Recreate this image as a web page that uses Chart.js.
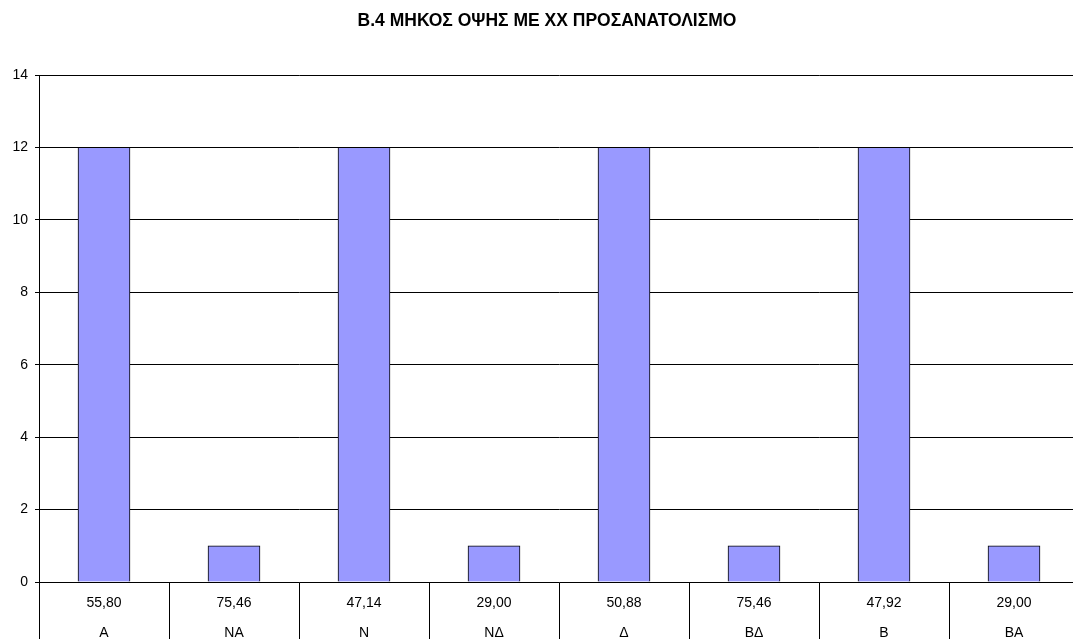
<!DOCTYPE html>
<html>
<head>
<meta charset="utf-8">
<script src="https://cdn.jsdelivr.net/npm/chart.js@4.4.1/dist/chart.umd.min.js"></script>
<style>
  html, body { margin: 0; padding: 0; background: #fff; overflow: hidden; }
  #wrap { width: 1073px; height: 639px; overflow: hidden; }
  canvas { display: block; }
</style>
</head>
<body>
<div id="wrap"><canvas id="c" width="1079" height="660"></canvas></div>
<script>
// Orientations (categories), bar heights and the facade lengths shown in the table row
const categories = ['Α', 'ΝΑ', 'Ν', 'ΝΔ', 'Δ', 'ΒΔ', 'Β', 'ΒΑ'];
const barValues = [12, 1, 12, 1, 12, 1, 12, 1];
const facadeLengths = [55.80, 75.46, 47.14, 29.00, 50.88, 75.46, 47.92, 29.00];
const yTicks = [0, 2, 4, 6, 8, 10, 12, 14];
const titleText = 'Β.4 ΜΗΚΟΣ ΟΨΗΣ ΜΕ ΧΧ ΠΡΟΣΑΝΑΤΟΛΙΣΜΟ';

const FONT = 'Arial, "Liberation Sans", sans-serif';
const fmt = v => v.toFixed(2).replace('.', ',');

// Title plus the data table drawn under the plot: cell borders and two text rows
const dataTable = {
  id: 'dataTable',
  afterDraw(chart) {
    const { ctx, chartArea, scales } = chart;
    const x = scales.x;
    const bottom = chart.height;
    const base = Math.round(chartArea.bottom) + 0.5;
    ctx.save();
    ctx.fillStyle = '#000';
    ctx.font = 'bold 17.5px ' + FONT;
    ctx.textAlign = 'center';
    ctx.textBaseline = 'middle';
    ctx.fillText(titleText, 547, 21);

    ctx.strokeStyle = '#000';
    ctx.lineWidth = 1;
    // vertical cell borders, continuing the left axis line downward
    ctx.beginPath();
    for (let i = 0; i <= categories.length; i++) {
      const px = Math.round(x.left + (x.right - x.left) * i / categories.length) + 0.5;
      ctx.moveTo(px, base);
      ctx.lineTo(px, bottom);
    }
    ctx.stroke();
    ctx.font = '14px ' + FONT;
    categories.forEach((c, i) => {
      const cx = x.getPixelForValue(i);
      ctx.fillText(fmt(facadeLengths[i]), cx, base + 21);
      ctx.fillText(c, cx, base + 51);
    });
    ctx.restore();
  }
};

new Chart(document.getElementById('c'), {
  type: 'bar',
  data: {
    labels: categories,
    datasets: [{
      data: barValues,
      backgroundColor: '#9999FF',
      borderColor: '#000',
      borderWidth: 1,
      barThickness: 52,
      categoryPercentage: 1.0
    }]
  },
  options: {
    responsive: false,
    animation: false,
    devicePixelRatio: 1,
    layout: { padding: { top: 75, right: 0, bottom: 78, left: 0 } },
    plugins: {
      legend: { display: false },
      tooltip: { enabled: false },
      title: { display: false }
    },
    scales: {
      x: {
        display: false,
        offset: true
      },
      y: {
        min: 0,
        max: 14,
        afterBuildTicks(scale) { scale.ticks = yTicks.map(v => ({ value: v })); },
        afterFit(scale) { scale.width = 39; },
        ticks: {
          color: '#000',
          font: { family: FONT, size: 14 },
          padding: 7
        },
        grid: {
          color: '#000',
          lineWidth: 1,
          tickLength: 4,
          drawTicks: true
        },
        border: { color: '#000', width: 1 }
      }
    }
  },
  plugins: [dataTable]
});
</script>
</body>
</html>
